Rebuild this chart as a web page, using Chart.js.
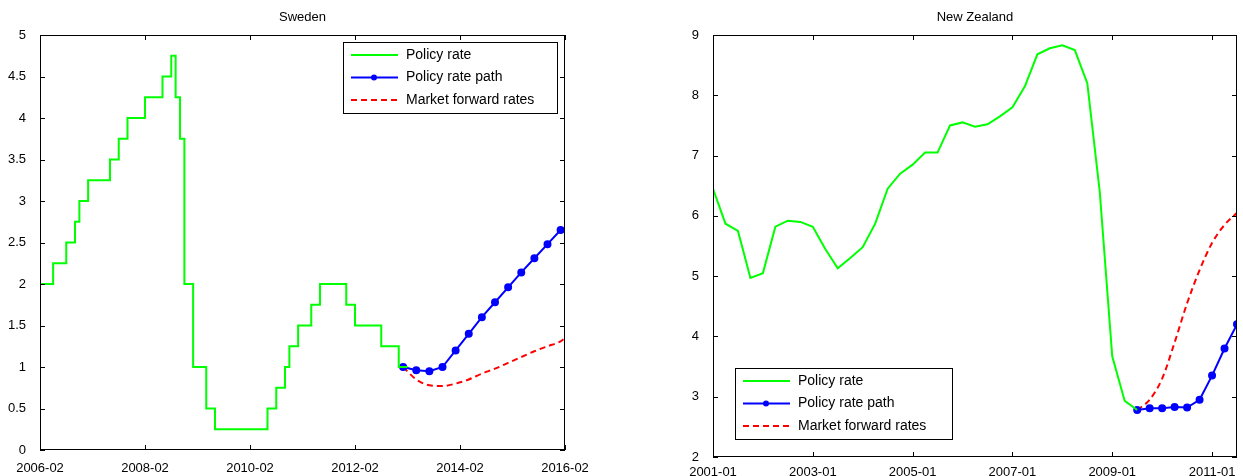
<!DOCTYPE html>
<html><head><meta charset="utf-8">
<script src="https://cdn.jsdelivr.net/npm/chart.js@4"></script>
<style>
body{margin:0;background:#fff;width:1243px;height:476px;position:relative;overflow:hidden}
.box{position:absolute;top:0;height:476px}
</style></head><body>
<div class="box" style="left:0;width:600px"><canvas id="se"></canvas></div>
<div class="box" style="left:670px;width:573px;height:486px"><canvas id="nz"></canvas></div>
<script>
// Sweden (months since 2006-02)
const seRateMonths = [0,3,6,8,9,11,16,18,20,24,28,30,31,32,33,35,38,40,52,54,56,57,59,62,64,70,72,78,82,84];
const seRate = [2,2.25,2.5,2.75,3,3.25,3.5,3.75,4,4.25,4.5,4.75,4.25,3.75,2,1,0.5,0.25,0.5,0.75,1,1.25,1.5,1.75,2,1.75,1.5,1.25,1,1];
const sePathMonths = [83,86,89,92,95,98,101,104,107,110,113,116,119];
const sePath = [1.0,0.96,0.95,1.0,1.2,1.4,1.6,1.78,1.96,2.14,2.31,2.48,2.65];
const seFwdMonths = [83,86,89,92,95,98,101,104,107,110,113,116,119,120];
const seFwd = [1.0,0.85,0.78,0.77,0.8,0.85,0.92,0.98,1.05,1.12,1.19,1.25,1.31,1.35];
const seTickLabels = ['2006-02','2008-02','2010-02','2012-02','2014-02','2016-02'];

// New Zealand (months since 2001-01)
const nzRate = [6.45,5.87,5.75,4.97,5.05,5.82,5.92,5.9,5.82,5.45,5.13,5.3,5.48,5.87,6.45,6.7,6.85,7.05,7.05,7.5,7.55,7.48,7.52,7.65,7.8,8.15,8.68,8.78,8.83,8.75,8.2,6.4,3.67,2.93,2.78];
const nzPath = [2.78,2.81,2.81,2.83,2.82,2.95,3.35,3.8,4.2];
const nzFwd = [2.78,2.95,3.3,3.9,4.55,5.1,5.55,5.85,6.05];
const nzTickLabels = ['2001-01','2003-01','2005-01','2007-01','2009-01','2011-01'];

const font = {family:'Liberation Sans, Arial, sans-serif', size:13};
Chart.defaults.font = font;
Chart.defaults.color = '#000';

const frame = {
  id:'frame',
  afterDraw(c, a, o){
    const ctx = c.ctx, ca = c.chartArea;
    ctx.save();
    ctx.strokeStyle='#000'; ctx.lineWidth=1;
    ctx.strokeRect(ca.left+0.5, ca.top+0.5, ca.width-1, ca.height-1);
    // inward tick marks
    ['x','y'].forEach(k=>{
      const s = c.scales[k];
      s.ticks.forEach(t=>{
        const p = Math.round(s.getPixelForValue(t.value))+0.5;
        ctx.beginPath();
        if(k==='x'){ ctx.moveTo(p,ca.bottom); ctx.lineTo(p,ca.bottom-5); ctx.moveTo(p,ca.top); ctx.lineTo(p,ca.top+5); }
        else { ctx.moveTo(ca.left,p); ctx.lineTo(ca.left+5,p); ctx.moveTo(ca.right,p); ctx.lineTo(ca.right-5,p); }
        ctx.stroke();
      });
    });
    ctx.fillStyle='#000'; ctx.font='13px Liberation Sans, Arial, sans-serif';
    ctx.textAlign='center'; ctx.textBaseline='middle';
    ctx.fillText(o.title, (ca.left+ca.right)/2, 17);
    // legend
    const L = o.legend;
    ctx.fillStyle='#fff'; ctx.fillRect(L.x, L.y, L.w, 71);
    ctx.strokeRect(L.x+0.5, L.y+0.5, L.w, 71);
    c.data.datasets.forEach((d,i)=>{
      const y = L.y+13+i*22.5;
      ctx.strokeStyle=d.borderColor; ctx.lineWidth=2;
      ctx.setLineDash(d.borderDash||[]);
      ctx.beginPath(); ctx.moveTo(L.x+8,y); ctx.lineTo(L.x+55,y); ctx.stroke();
      ctx.setLineDash([]);
      if(d.pointRadius){ ctx.fillStyle=d.borderColor; ctx.beginPath(); ctx.arc(L.x+31,y,3,0,7); ctx.fill(); }
      ctx.fillStyle='#000'; ctx.textAlign='left'; ctx.font='14px Liberation Sans, Arial, sans-serif';
      ctx.fillText(d.label, L.x+63, y);
    });
    ctx.restore();
  }
};

function make(id, ds, xmax, ymin, ymax, ystep, labels, yw, xh, xpad, pad, title, legend){
  new Chart(document.getElementById(id), {
    type:'line',
    data:{datasets:ds},
    options:{
      responsive:true, maintainAspectRatio:false, animation:false,
      layout:{padding:{top:35,right:pad,left:0,bottom:0}},
      plugins:{legend:{display:false}, tooltip:{enabled:false}, frame:{title, legend}},
      scales:{
        x:{type:'linear', min:0, max:xmax, grid:{display:false}, border:{display:false},
          afterBuildTicks:s=>{s.ticks=labels.map((l,i)=>({value:i*24}));},
          afterFit:s=>{s.height=xh;},
          ticks:{maxRotation:0, padding:xpad, callback:(v)=>labels[v/24]}},
        y:{min:ymin, max:ymax, grid:{display:false}, border:{display:false},
          afterFit:s=>{s.width=yw;},
          ticks:{stepSize:ystep, padding:6, callback:v=>String(+v.toFixed(2))}}
      }
    },
    plugins:[frame]
  });
}

const green='#00ff00', blue='#0000ff', red='#ff0000';
make('se', [
  {label:'Policy rate', data:seRateMonths.map((m,i)=>({x:m,y:seRate[i]})), borderColor:green, borderWidth:2, stepped:'before', pointRadius:0},
  {label:'Policy rate path', data:sePathMonths.map((m,i)=>({x:m,y:sePath[i]})), borderColor:blue, backgroundColor:blue, borderWidth:2, pointRadius:3},
  {label:'Market forward rates', data:seFwdMonths.map((m,i)=>({x:m,y:seFwd[i]})), borderColor:red, borderWidth:2, borderDash:[6,4], pointRadius:0, cubicInterpolationMode:'monotone'}
], 120, 0, 5, 0.5, seTickLabels, 40, 26, 3, 35, 'Sweden', {x:343,y:42,w:214});

make('nz', [
  {label:'Policy rate', data:nzRate.map((v,i)=>({x:i*3,y:v})), borderColor:green, borderWidth:2, pointRadius:0},
  {label:'Policy rate path', data:nzPath.map((v,i)=>({x:102+i*3,y:v})), borderColor:blue, backgroundColor:blue, borderWidth:2, pointRadius:3},
  {label:'Market forward rates', data:nzFwd.map((v,i)=>({x:102+i*3,y:v})), borderColor:red, borderWidth:2, borderDash:[6,4], pointRadius:0, cubicInterpolationMode:'monotone'}
], 126, 2, 9, 1, nzTickLabels, 43, 29, 0, 3, 'New Zealand', {x:65,y:368,w:217});
</script>
</body></html>
